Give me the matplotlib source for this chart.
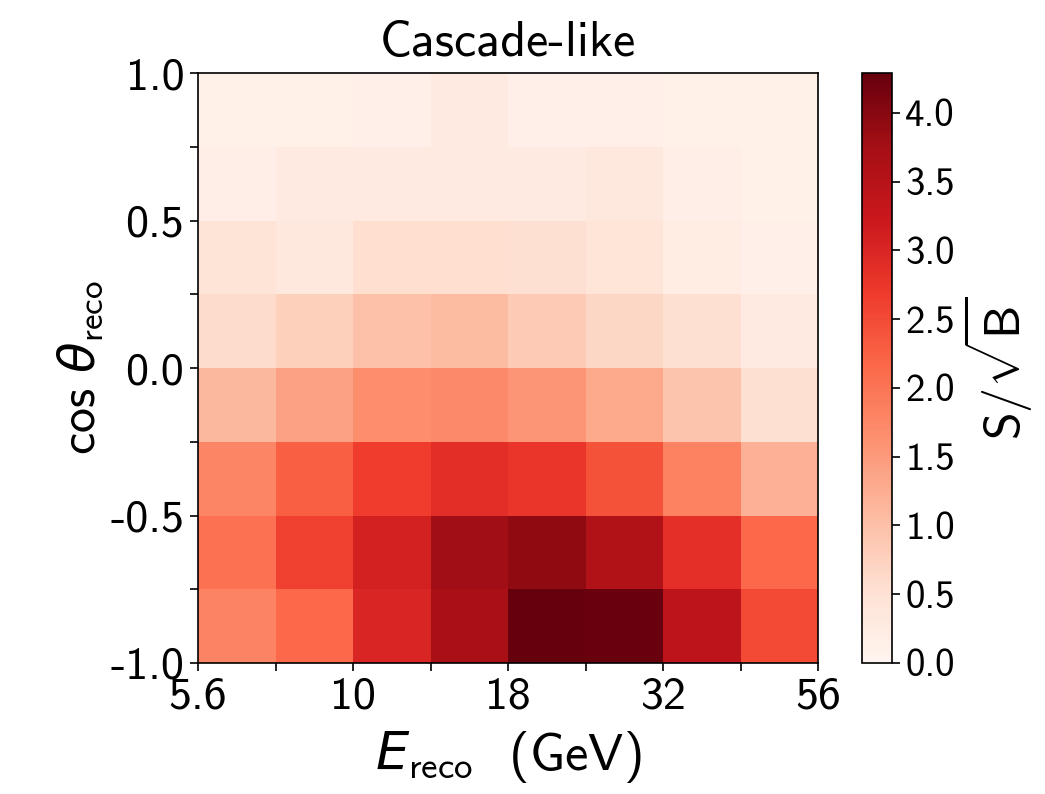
import matplotlib

matplotlib.use("Agg")

import matplotlib.pyplot as plt
import numpy as np
from matplotlib.ticker import FixedLocator, NullFormatter

plt.rcParams["font.family"] = ["cmss10", "DejaVu Sans"]
plt.rcParams["mathtext.fontset"] = "custom"
plt.rcParams["mathtext.rm"] = "cmss10"
plt.rcParams["mathtext.sf"] = "cmss10"
plt.rcParams["mathtext.it"] = "DejaVu Sans:italic"
plt.rcParams["axes.unicode_minus"] = False
plt.rcParams["axes.formatter.use_mathtext"] = False

# ---------------------------------------------------------------------------
# Data: S/sqrt(B) per (cos theta, E) bin, rows from cos=-1 upward
# ---------------------------------------------------------------------------
e_min, e_max, n_e = 5.6, 56.0, 8
cos_min, cos_max, n_cos = -1.0, 1.0, 8
x_tick_labels = ["5.6", "10", "18", "32", "56"]
y_tick_labels = ["-1.0", "-0.5", "0.0", "0.5", "1.0"]
cbar_ticks = [0.0, 0.5, 1.0, 1.5, 2.0, 2.5, 3.0, 3.5, 4.0]

row_m100 = [1.80, 2.15, 3.00, 3.72, 4.29, 4.27, 3.43, 2.50]
row_m075 = [2.06, 2.63, 3.10, 3.78, 3.93, 3.60, 2.86, 2.15]
row_m050 = [1.78, 2.27, 2.68, 2.87, 2.75, 2.42, 1.82, 1.22]
row_m025 = [1.11, 1.41, 1.69, 1.72, 1.57, 1.31, 0.95, 0.55]
row_p000 = [0.60, 0.78, 1.00, 1.06, 0.87, 0.68, 0.54, 0.30]
row_p025 = [0.46, 0.35, 0.56, 0.56, 0.54, 0.43, 0.25, 0.16]
row_p050 = [0.18, 0.28, 0.28, 0.28, 0.28, 0.32, 0.18, 0.14]
row_p075 = [0.15, 0.15, 0.16, 0.30, 0.16, 0.16, 0.15, 0.15]

values = np.array([row_m100, row_m075, row_m050, row_m025,
                   row_p000, row_p025, row_p050, row_p075])

e_edges = np.logspace(np.log10(e_min), np.log10(e_max), n_e + 1)
cos_edges = np.linspace(cos_min, cos_max, n_cos + 1)

# ---------------------------------------------------------------------------
# Plot
# ---------------------------------------------------------------------------
fig = plt.figure(figsize=(10.45, 7.94), dpi=100)
ax = fig.add_axes([0.1895, 0.165, 0.5933, 0.743])
cax = fig.add_axes([0.825, 0.165, 0.0287, 0.743])

mesh = ax.pcolormesh(e_edges, cos_edges, values, cmap="Reds",
                     vmin=0.0, vmax=values.max())
ax.set_xscale("log")
ax.set_xlim(e_min, e_max)
ax.set_ylim(cos_min, cos_max)

ax.xaxis.set_major_locator(FixedLocator(e_edges[::2]))
ax.xaxis.set_minor_locator(FixedLocator(e_edges[1::2]))
ax.set_xticklabels(x_tick_labels)
ax.xaxis.set_minor_formatter(NullFormatter())

ax.yaxis.set_major_locator(FixedLocator(cos_edges[::2]))
ax.yaxis.set_minor_locator(FixedLocator(cos_edges[1::2]))
ax.set_yticklabels(y_tick_labels)

ax.tick_params(which="both", direction="out", length=6, width=1.2,
               labelsize=33, pad=4)
for side in ax.spines.values():
    side.set_linewidth(1.2)

ax.set_title("Cascade-like", fontsize=36, pad=12)
ax.set_xlabel(r"$E_\mathrm{reco}$  (GeV)", fontsize=38, labelpad=8)
ax.set_ylabel(r"$\cos\,\theta_\mathrm{reco}$", fontsize=36, labelpad=4)

cbar = fig.colorbar(mesh, cax=cax, ticks=cbar_ticks)
cbar.ax.set_yticklabels([f"{t:.1f}" for t in cbar_ticks])
cbar.ax.tick_params(direction="out", length=6, width=1.2, labelsize=28)
cbar.outline.set_linewidth(1.2)
cbar.set_label(r"$\mathrm{S}/\sqrt{\mathrm{B}}$", fontsize=36, labelpad=4)

fig.savefig("out.png", dpi=100)
plt.close(fig)
